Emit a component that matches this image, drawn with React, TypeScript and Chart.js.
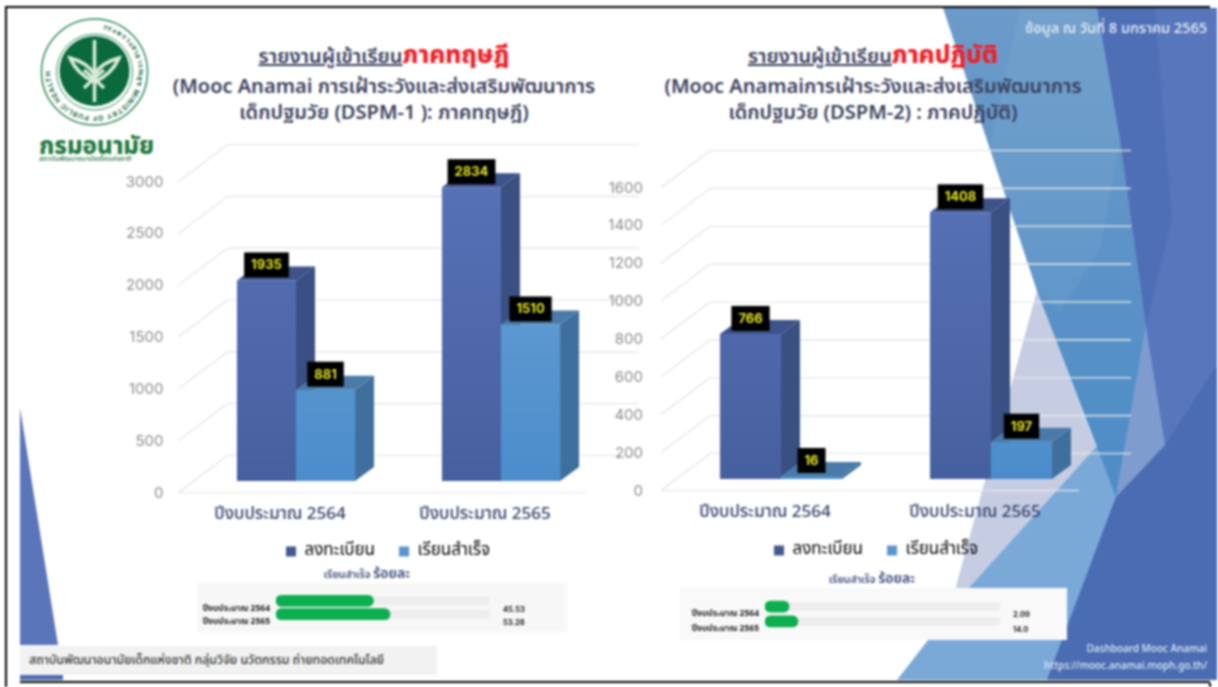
import React, { useEffect, useRef } from "react";
import { Chart, registerables } from "chart.js";

Chart.register(...registerables);

const FONT = '"Noto Sans Thai", "Noto Sans", "Inter", "Liberation Sans", sans-serif';
Chart.defaults.font.family = FONT;

// ---- data ----
const years = ["ปีงบประมาณ 2564", "ปีงบประมาณ 2565"];
const legendRegistered = "ลงทะเบียน";
const legendCompleted = "เรียนสำเร็จ";

const theoryRegistered = [1935, 2834];
const theoryCompleted = [881, 1510];
const practiceRegistered = [766, 1408];
const practiceCompleted = [16, 197];

const theoryPercent = [45.53, 53.28];
const practicePercent = [2.09, 14.0];
const theoryPercentLabels = ["45.53", "53.28"];
const practicePercentLabels = ["2.09", "14.0"];
const trackValues = [100, 100];

const DEPTH_X = 19;
const DEPTH_Y = 14;

const wall3D = {
  id: "wall3D",
  beforeDatasetsDraw(chart: any) {
    const { ctx, scales } = chart;
    const xs = scales.x;
    const ys = scales.y;
    ctx.save();
    ctx.lineWidth = 1.6;
    ctx.strokeStyle = "rgba(232,232,232,0.85)";
    ys.ticks.forEach((t: any) => {
      const py = ys.getPixelForValue(t.value);
      ctx.beginPath();
      ctx.moveTo(xs.left - 15, py + 11.5);
      ctx.lineTo(xs.left + 34, py - 25.5);
      ctx.lineTo(xs.right + 35, py - 25.5);
      ctx.stroke();
      if (t.value === 0) {
        ctx.beginPath();
        ctx.moveTo(xs.left - 15, py + 11.5);
        ctx.lineTo(xs.right - 17, py + 11.5);
        ctx.stroke();
      }
    });
    const faces = [
      { side: "#3a4f82", top: "#3d5389" },
      { side: "#3f6f9d", top: "#4a7ba8" },
    ];
    chart.data.datasets.forEach((_: any, i: number) => {
      chart.getDatasetMeta(i).data.forEach((el: any) => {
        const { x, y, width, base } = el.getProps(["x", "y", "width", "base"], true);
        const l = x - width / 2;
        const r = x + width / 2;
        ctx.fillStyle = faces[i].side;
        ctx.beginPath();
        ctx.moveTo(r, y);
        ctx.lineTo(r + DEPTH_X, y - DEPTH_Y);
        ctx.lineTo(r + DEPTH_X, base - DEPTH_Y);
        ctx.lineTo(r, base);
        ctx.closePath();
        ctx.fill();
        ctx.fillStyle = faces[i].top;
        ctx.beginPath();
        ctx.moveTo(l, y);
        ctx.lineTo(l + DEPTH_X, y - DEPTH_Y);
        ctx.lineTo(r + DEPTH_X, y - DEPTH_Y);
        ctx.lineTo(r, y);
        ctx.closePath();
        ctx.fill();
      });
    });
    ctx.restore();
  },
  afterDatasetsDraw(chart: any) {
    const { ctx } = chart;
    ctx.save();
    ctx.font = "700 13px Inter, sans-serif";
    ctx.textAlign = "center";
    ctx.textBaseline = "middle";
    chart.data.datasets.forEach((ds: any, i: number) => {
      chart.getDatasetMeta(i).data.forEach((el: any, j: number) => {
        const { x, y } = el.getProps(["x", "y"], true);
        const text = String(ds.data[j]);
        const w = ctx.measureText(text).width + 14;
        ctx.fillStyle = "#000";
        ctx.fillRect(x - w / 2, y - 28, w, 25);
        ctx.fillStyle = "#e6e625";
        ctx.fillText(text, x, y - 15);
      });
    });
    ctx.restore();
  },
};

const percentValues = {
  id: "percentValues",
  afterDatasetsDraw(chart: any, _a: any, opts: any) {
    const { ctx, chartArea } = chart;
    ctx.save();
    ctx.font = "700 7.5px Inter, sans-serif";
    ctx.fillStyle = "#222";
    ctx.textAlign = "left";
    ctx.textBaseline = "middle";
    chart.getDatasetMeta(0).data.forEach((el: any, j: number) => {
      ctx.fillText(opts.labels[j], chartArea.right + 13, el.y + 8.5);
    });
    ctx.restore();
  },
};

function grad(ctxChart: any, top: string, bottom: string) {
  const { ctx, chartArea } = ctxChart.chart;
  if (!chartArea) return top;
  const g = ctx.createLinearGradient(0, chartArea.top, 0, chartArea.bottom);
  g.addColorStop(0, top);
  g.addColorStop(1, bottom);
  return g;
}

function barConfig(
  reg: number[],
  done: number[],
  o: { max: number; step: number; yWidth: number; yPad: number; xHeight: number; xPad: number; rightWidth: number; top: number; cat: number }
) {
  return {
    type: "bar",
    plugins: [wall3D],
    data: {
      labels: years,
      datasets: [
        {
          label: legendRegistered,
          data: reg,
          backgroundColor: (c: any) => grad(c, "#5872b8", "#46609f"),
          barPercentage: 1,
          categoryPercentage: o.cat,
        },
        {
          label: legendCompleted,
          data: done,
          backgroundColor: (c: any) => grad(c, "#6da2d6", "#4b8dcb"),
          barPercentage: 1,
          categoryPercentage: o.cat,
        },
      ],
    },
    options: {
      responsive: false,
      animation: false,
      layout: { padding: { top: o.top, left: 0, right: 0, bottom: 0 } },
      plugins: {
        tooltip: { enabled: false },
        title: { display: false },
        legend: {
          position: "bottom",
          labels: {
            boxWidth: 10,
            boxHeight: 10,
            padding: 24,
            color: "#3a4a78",
            font: { size: 17 },
            generateLabels: () => [
              { text: legendRegistered, fillStyle: "#44598f", strokeStyle: "#44598f", lineWidth: 0, datasetIndex: 0 },
              { text: legendCompleted, fillStyle: "#5b95d0", strokeStyle: "#5b95d0", lineWidth: 0, datasetIndex: 1 },
            ],
          },
        },
      },
      scales: {
        x: {
          grid: { display: false, drawTicks: false },
          border: { display: false },
          afterFit: (s: any) => {
            s.height = o.xHeight;
          },
          ticks: {
            padding: o.xPad,
            labelOffset: -16,
            maxRotation: 0,
            autoSkip: false,
            color: "#33406a",
            font: { size: 17, weight: "500" },
          },
        },
        y: {
          min: 0,
          max: o.max,
          grid: { display: false, drawTicks: false },
          border: { display: false },
          afterFit: (s: any) => {
            s.width = o.yWidth;
          },
          ticks: {
            stepSize: o.step,
            padding: o.yPad,
            labelOffset: 12,
            color: "#8c8c8c",
            font: { family: "Inter, sans-serif", size: 15 },
            callback: (v: any) => String(v),
          },
        },
        spacer: {
          position: "right",
          grid: { display: false, drawTicks: false },
          border: { display: false },
          ticks: { display: false },
          afterFit: (s: any) => {
            s.width = o.rightWidth;
          },
        },
      },
    },
  };
}

function percentConfig(
  values: number[],
  labels: string[],
  o: { yWidth: number; pad: any; minLen: number; off: number }
) {
  return {
    type: "bar",
    plugins: [percentValues],
    data: {
      labels: years,
      datasets: [
        {
          data: values,
          backgroundColor: "#0cae50",
          borderRadius: 6,
          borderSkipped: false,
          barThickness: 11,
          minBarLength: o.minLen,
          grouped: false,
        },
        {
          data: trackValues,
          backgroundColor: "#ededed",
          borderRadius: 4,
          borderSkipped: false,
          barThickness: 8,
          grouped: false,
        },
      ],
    },
    options: {
      indexAxis: "y",
      responsive: false,
      animation: false,
      layout: { padding: o.pad },
      plugins: {
        tooltip: { enabled: false },
        legend: { display: false },
        percentValues: { labels },
      },
      scales: {
        x: { min: 0, max: 100, display: false },
        y: {
          grid: { display: false, drawTicks: false },
          border: { display: false },
          afterFit: (s: any) => {
            s.width = o.yWidth;
          },
          ticks: {
            padding: 6,
            labelOffset: o.off,
            autoSkip: false,
            color: "#222",
            font: { size: 8.5, weight: "700" },
          },
        },
      },
    },
  };
}

function ChartBox({ x, y, w, h, config }: { x: number; y: number; w: number; h: number; config: any }) {
  const ref = useRef<HTMLCanvasElement | null>(null);
  useEffect(() => {
    const chart = new Chart(ref.current as HTMLCanvasElement, config);
    return () => chart.destroy();
  }, []);
  return (
    <canvas
      ref={ref}
      width={w}
      height={h}
      style={{ position: "absolute", left: x, top: y, width: w, height: h }}
    />
  );
}

function Txt({ x, y, w, align, size, color, weight, children }: any) {
  return (
    <div
      style={{
        position: "absolute",
        left: x,
        top: y,
        width: w,
        textAlign: align || "center",
        fontSize: size,
        lineHeight: `${Math.round(size * 1.3)}px`,
        color,
        fontWeight: weight || 500,
        fontFamily: FONT,
        whiteSpace: "nowrap",
      }}
    >
      {children}
    </div>
  );
}

function Background() {
  return (
    <svg width={1218} height={687} style={{ position: "absolute", left: 0, top: 0 }}>
      <defs>
        <linearGradient id="up" x1="0" y1="0" x2="0" y2="1">
          <stop offset="0" stopColor="#6c9bc9" />
          <stop offset="1" stopColor="#4d8cc7" />
        </linearGradient>
        <path id="ringPath" d="M 94.5 28 a 44 44 0 1 1 -0.01 0" />
      </defs>
      <rect x={20} y={8} width={1197} height={672} fill="#fff" />
      <polygon points="20,408 58,645 20,645" fill="#5b75bb" />
      <rect x={20} y={675} width={43} height={5} fill="#4f6cb2" />
      <polygon points="1037,291 1108,478 967,590 955,590" fill="#c6cde3" />
      <polygon points="1097,446 1120,502 1047,680 897,680 967,590" fill="#7aa9d8" />
      <polygon points="943,8 1097,8 1120,140 1146,327 1116,497 1037,291" fill="url(#up)" />
      <polygon points="1020,8 1097,8 1120,140 1100,250 1060,310 1037,291 990,150" fill="#ffffff" opacity="0.05" />
      <polygon points="1097,8 1217,8 1217,680 1047,680 1116,497 1146,327 1120,140" fill="#5876bc" />
      <polygon points="1097,8 1155,8 1172,220 1146,327 1120,140" fill="#4e6fb6" />
      <polygon points="1217,365 1165,445 1116,497 1047,680 1217,680" fill="#4a6cb3" />
      <polygon points="1146,327 1165,445 1116,497" fill="#7f9ccf" />
      {/* frame */}
      <rect x={5} y={6} width={1205} height={2} fill="#000" />
      <rect x={5} y={6} width={2} height={681} fill="#000" />
      <rect x={20} y={681} width={1190} height={2} fill="#000" />
      <rect x={1209} y={683} width={2} height={4} fill="#000" />
      {/* emblem */}
      <circle cx={94.5} cy={72} r={53} fill="#fff" stroke="#2c8a5c" strokeWidth={1.5} />
      <circle cx={94.5} cy={72} r={38} fill="none" stroke="#2c8a5c" strokeWidth={1} />
      <text fontSize={7} fontWeight={700} fill="#1c6b44" fontFamily="Inter, sans-serif" letterSpacing={0.8}>
        <textPath href="#ringPath" startOffset="3%">กระทรวงสาธารณสุข MINISTRY OF PUBLIC HEALTH</textPath>
      </text>
      <circle cx={94.5} cy={71} r={35} fill="#0b6a3d" />
      <path
        d="M94.5 40 L94.5 102 M70 58 Q86 62 94.5 74 Q103 62 119 58 Q112 74 94.5 82 Q77 74 70 58 Z M84 88 Q94 78 104 70 M104 88 Q94 78 84 70"
        stroke="#d9ecd9"
        strokeWidth={3.5}
        fill="none"
      />
    </svg>
  );
}

export default function App() {
  return (
    <div
      style={{
        position: "fixed",
        left: 0,
        top: 0,
        width: 1218,
        height: 687,
        background: "#fff",
        overflow: "hidden",
        filter: "blur(0.9px)",
      }}
    >
      <Background />

      <Txt x={39} y={132} w={130} align="left" size={24} color="#1f7a3f" weight={800}>กรมอนามัย</Txt>
      <Txt x={39} y={155} w={120} align="left" size={7} color="#1f7a3f">สถาบันพัฒนาอนามัยเด็กแห่งชาติ</Txt>

      <Txt x={84} y={43} w={600} size={20} color="#3a3f5c" weight={600}>
        <span style={{ textDecoration: "underline" }}>รายงานผู้เข้าเรียน</span>
        <span style={{ color: "#ee2027", fontSize: 24.5, fontWeight: 800 }}>ภาคทฤษฎี</span>
      </Txt>
      <Txt x={84} y={74} w={600} size={20} color="#3a3f5c" weight={600}>(Mooc Anamai การเฝ้าระวังและส่งเสริมพัฒนาการ</Txt>
      <Txt x={84} y={100} w={600} size={20} color="#3a3f5c" weight={600}>เด็กปฐมวัย (DSPM-1 ): ภาคทฤษฎี)</Txt>

      <Txt x={573} y={43} w={600} size={20} color="#3a3f5c" weight={600}>
        <span style={{ textDecoration: "underline" }}>รายงานผู้เข้าเรียน</span>
        <span style={{ color: "#ee2027", fontSize: 24.5, fontWeight: 800 }}>ภาคปฏิบัติ</span>
      </Txt>
      <Txt x={573} y={74} w={600} size={20} color="#3a3f5c" weight={600}>(Mooc Anamaiการเฝ้าระวังและส่งเสริมพัฒนาการ</Txt>
      <Txt x={573} y={100} w={600} size={20} color="#3a3f5c" weight={600}>เด็กปฐมวัย (DSPM-2) : ภาคปฏิบัติ)</Txt>

      <Txt x={907} y={20} w={300} align="right" size={14.5} color="#e6edf7">ข้อมูล ณ วันที่ 8 มกราคม 2565</Txt>
      <Txt x={907} y={643} w={300} align="right" size={10} color="#dfe7f4">Dashboard Mooc Anamai</Txt>
      <Txt x={907} y={660} w={300} align="right" size={10} color="#dfe7f4">https://mooc.anamai.moph.go.th/</Txt>

      <ChartBox
        x={120}
        y={130}
        w={536}
        h={440}
        config={barConfig(theoryRegistered, theoryCompleted, {
          max: 3000,
          step: 500,
          yWidth: 73.5,
          yPad: 30,
          xHeight: 38,
          xPad: 24,
          rightWidth: 52.5,
          top: 40,
          cat: 0.576,
        })}
      />
      <ChartBox
        x={590}
        y={134}
        w={572}
        h={435}
        config={barConfig(practiceRegistered, practiceCompleted, {
          max: 1600,
          step: 200,
          yWidth: 86,
          yPad: 33,
          xHeight: 39,
          xPad: 24,
          rightWidth: 66,
          top: 40,
          cat: 0.581,
        })}
      />

      <Txt x={267} y={567} w={200} size={10.5} color="#3a4a78" weight={600}>
        เรียนสำเร็จ <span style={{ fontSize: 14 }}>ร้อยละ</span>
      </Txt>
      <Txt x={772} y={572} w={200} size={10.5} color="#3a4a78" weight={600}>
        เรียนสำเร็จ <span style={{ fontSize: 14 }}>ร้อยละ</span>
      </Txt>

      <div style={{ position: "absolute", left: 197, top: 583, width: 370, height: 49, background: "#f7f7f7" }} />
      <div style={{ position: "absolute", left: 680, top: 588, width: 387, height: 52, background: "#f9f9f9" }} />
      <ChartBox
        x={197}
        y={583}
        w={370}
        h={49}
        config={percentConfig(theoryPercent, theoryPercentLabels, {
          yWidth: 79,
          pad: { top: 5.25, bottom: 8.75, right: 77, left: 0 },
          minLen: 20,
          off: 8.5,
        })}
      />
      <ChartBox
        x={680}
        y={588}
        w={387}
        h={52}
        config={percentConfig(practicePercent, practicePercentLabels, {
          yWidth: 85,
          pad: { top: 4.5, bottom: 9.5, right: 67, left: 0 },
          minLen: 24,
          off: 8,
        })}
      />

      <div style={{ position: "absolute", left: 20, top: 646, width: 417, height: 29, background: "#f2f2f2" }} />
      <Txt x={29} y={653} w={400} align="left" size={12.3} color="#333">สถาบันพัฒนาอนามัยเด็กแห่งชาติ กลุ่มวิจัย นวัตกรรม ถ่ายทอดเทคโนโลยี</Txt>
    </div>
  );
}
